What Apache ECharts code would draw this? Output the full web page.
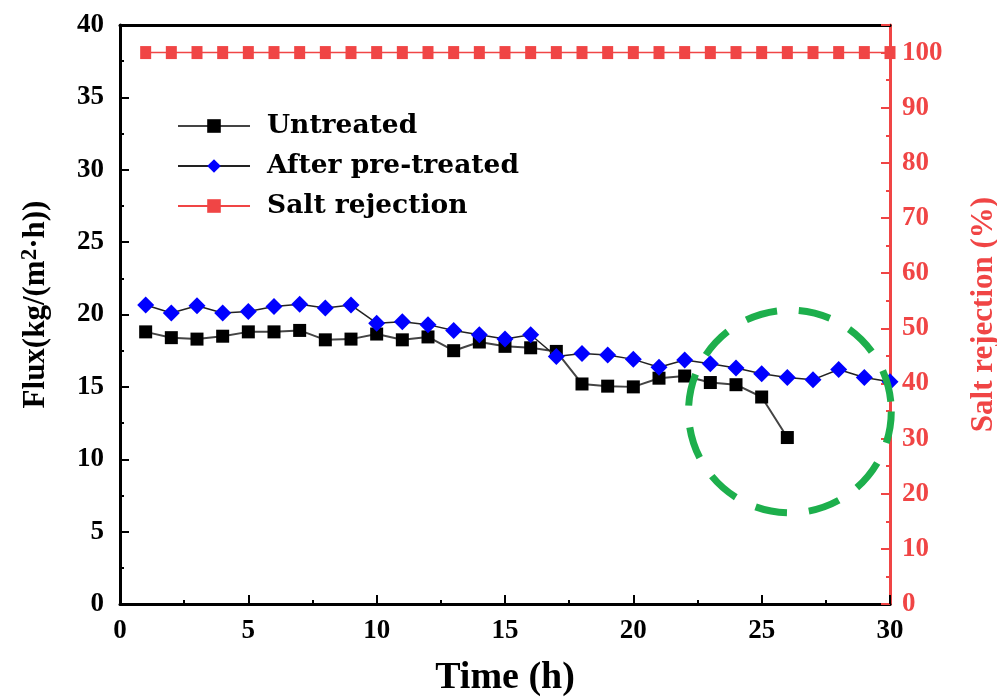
<!DOCTYPE html>
<html>
<head>
<meta charset="utf-8">
<script src="https://cdn.jsdelivr.net/npm/echarts@6/dist/echarts.min.js"></script>
<style>
  html, body { margin: 0; padding: 0; background: #fff; overflow: hidden; }
  #chart { width: 997px; height: 698px; }
</style>
</head>
<body>
<div id="chart"></div>
<script>
// Operating time (h) for each sample
const hours = [1, 2, 3, 4, 5, 6, 7, 8, 9, 10, 11, 12, 13, 14, 15, 16, 17, 18, 19, 20,
               21, 22, 23, 24, 25, 26, 27, 28, 29, 30];
// Flux, kg/(m2·h)
const untreated = [18.8, 18.4, 18.3, 18.5, 18.8, 18.8, 18.9, 18.25, 18.3, 18.65,
                   18.25, 18.45, 17.5, 18.1, 17.8, 17.7, 17.45, 15.2, 15.05, 15.0,
                   15.6, 15.75, 15.3, 15.15, 14.3, 11.5];
const pretreated = [20.65, 20.1, 20.6, 20.1, 20.2, 20.55, 20.7, 20.45, 20.65, 19.4,
                    19.5, 19.3, 18.9, 18.6, 18.3, 18.6, 17.1, 17.3, 17.2, 16.9,
                    16.35, 16.85, 16.6, 16.3, 15.9, 15.65, 15.5, 16.2, 15.65, 15.35];
// Salt rejection, %
const saltRejection = [100, 100, 100, 100, 100, 100, 100, 100, 100, 100,
                       100, 100, 100, 100, 100, 100, 100, 100, 100, 100,
                       100, 100, 100, 100, 100, 100, 100, 100, 100, 100];
// Highlighted region around the untreated run's failure (time h, flux)
const highlightCenter = [26.1, 13.3];
const highlightRadiusHours = 3.95;

const RED = '#f04545';
const GREEN = '#1daf4c';
const tickFont = 'Liberation Serif';
const legendFont = 'DejaVu Serif';
const titleFont = 'Liberation Serif';

const pairs = (ys) => ys.map((v, i) => [hours[i], v]);

const chart = echarts.init(document.getElementById('chart'));

const tickLabel = (color) => ({
  fontFamily: tickFont, fontWeight: 'bold', fontSize: 27, color: color
});

const option = {
  backgroundColor: '#fff',
  animation: false,
  grid: { left: 120, right: 107, top: 25, bottom: 94, containLabel: false, outerBoundsMode: 'none' },
  legend: {
    left: 172, top: 106, orient: 'vertical',
    itemWidth: 72, itemHeight: 17, itemGap: 10,
    textStyle: { fontFamily: legendFont, fontWeight: 'bold', fontSize: 26.5, color: '#000',
                 lineHeight: 30, padding: [0, 0, 0, 12] },
    data: ['Untreated', 'After pre-treated', 'Salt rejection']
  },
  xAxis: [{
    type: 'value', min: 0, max: 30, interval: 5,
    name: 'Time (h)', nameLocation: 'middle', nameGap: 55,
    nameTextStyle: { fontFamily: titleFont, fontWeight: 'bold', fontSize: 38, color: '#000' },
    axisLine: { show: true, onZero: false, lineStyle: { color: '#000', width: 3 } },
    axisTick: { show: true, inside: true, length: 9, lineStyle: { color: '#000', width: 2 } },
    minorTick: { show: true, splitNumber: 2, length: 4, lineStyle: { color: '#000', width: 2 } },
    axisLabel: Object.assign(tickLabel('#000'), { margin: 14 }),
    splitLine: { show: false }
  }, {
    type: 'value', min: 0, max: 30, position: 'top',
    axisLine: { show: true, onZero: false, lineStyle: { color: '#000', width: 3 } },
    axisTick: { show: false }, axisLabel: { show: false }, splitLine: { show: false }
  }],
  yAxis: [{
    type: 'value', min: 0, max: 40, interval: 5, position: 'left',
    name: '{a|Flux(kg/(m}{s|2}{a|·h))}', nameLocation: 'middle', nameGap: 67,
    nameTextStyle: {
      padding: [0, 0, 0, 20],
      rich: {
        a: { fontFamily: titleFont, fontWeight: 'bold', fontSize: 31, color: '#000', lineHeight: 34 },
        s: { fontFamily: titleFont, fontWeight: 'bold', fontSize: 23, color: '#000', verticalAlign: 'top', lineHeight: 22 }
      }
    },
    axisLine: { show: true, onZero: false, lineStyle: { color: '#000', width: 3 } },
    axisTick: { show: true, inside: true, length: 9, lineStyle: { color: '#000', width: 2 } },
    minorTick: { show: true, splitNumber: 2, length: 4, lineStyle: { color: '#000', width: 2 } },
    axisLabel: Object.assign(tickLabel('#000'), { margin: 16 }),
    splitLine: { show: false }
  }, {
    type: 'value', min: 0, max: 105, interval: 10, position: 'right',
    name: 'Salt rejection (%)', nameLocation: 'middle', nameGap: 78, nameRotate: 90,
    nameTextStyle: { fontFamily: titleFont, fontWeight: 'bold', fontSize: 31, color: RED },
    axisLine: { show: true, onZero: false, lineStyle: { color: RED, width: 3 } },
    axisTick: { show: true, inside: true, length: 9, lineStyle: { color: RED, width: 2 } },
    minorTick: { show: true, splitNumber: 2, length: 4, lineStyle: { color: RED, width: 2 } },
    axisLabel: Object.assign(tickLabel(RED), { margin: 12, showMaxLabel: false }),
    splitLine: { show: false }
  }],
  series: [{
    name: 'Untreated', type: 'line', xAxisIndex: 0, yAxisIndex: 0,
    data: pairs(untreated),
    symbol: 'rect', symbolSize: 13,
    itemStyle: { color: '#000' },
    lineStyle: { color: '#444', width: 2 },
    z: 3
  }, {
    name: 'After pre-treated', type: 'line', xAxisIndex: 0, yAxisIndex: 0,
    data: pairs(pretreated),
    symbol: 'diamond', symbolSize: [17, 17],
    itemStyle: { color: '#0000ff' },
    lineStyle: { color: '#222', width: 1.5 },
    z: 4
  }, {
    name: 'Salt rejection', type: 'line', xAxisIndex: 0, yAxisIndex: 1,
    data: pairs(saltRejection),
    symbol: 'rect', symbolSize: [11, 13],
    itemStyle: { color: RED },
    lineStyle: { color: RED, width: 1.5 },
    z: 2
  }]
};

chart.setOption(option);

// Dashed circle marking the highlighted region
const c = chart.convertToPixel({ xAxisIndex: 0, yAxisIndex: 0 }, highlightCenter);
const edge = chart.convertToPixel({ xAxisIndex: 0, yAxisIndex: 0 },
  [highlightCenter[0] + highlightRadiusHours, highlightCenter[1]]);
const r = edge[0] - c[0];
chart.setOption({
  graphic: [{
    type: 'circle', z: 100,
    shape: { cx: c[0], cy: c[1], r: r },
    style: { fill: 'none', stroke: GREEN, lineWidth: 7, lineDash: [32, 22] }
  }]
});
</script>
</body>
</html>
